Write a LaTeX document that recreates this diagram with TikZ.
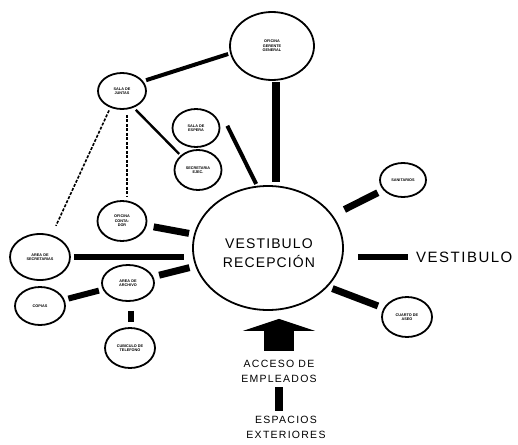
\documentclass[tikz,border=0pt]{standalone}
\usepackage{fontspec}
\setmainfont{Liberation Sans}
\usetikzlibrary{shapes.geometric,arrows.meta,calc}
\begin{document}
\begin{tikzpicture}[x=1pt,y=-1pt,
  room/.style={draw, ellipse, line width=1.8pt, inner sep=0pt, align=center,
    font=\fontsize{3.8}{4.4}\selectfont\bfseries},
  bar/.style={line width=7pt},
  midbar/.style={line width=4pt},
  thinbar/.style={line width=2.4pt},
  dotline/.style={line width=1.6pt, dash pattern=on 3pt off 1.5pt},
  bigtext/.style={font=\fontsize{14}{16}\selectfont\addfontfeature{LetterSpace=8}, align=center, inner sep=0pt},
  sidetext/.style={font=\fontsize{15}{17}\selectfont\addfontfeature{LetterSpace=10}, inner sep=0pt},
  medtext/.style={font=\fontsize{10.5}{15}\selectfont\addfontfeature{LetterSpace=12}, align=center, inner sep=0pt}
]
\useasboundingbox (0,0) rectangle (518,444);
\fill[white] (0,0) rectangle (518,444);

% main hall
\node[draw, ellipse, line width=1.8pt, minimum width=150pt, minimum height=124pt, inner sep=0pt] (main) at (268,248) {};
\node[bigtext] (maintxt) at (269,253) {VESTIBULO\\[3pt]RECEPCIÓN};

% rooms
\node[room, minimum width=84pt, minimum height=68pt] (gerente) at (272,46) {OFICINA\\GERENTE\\GENERAL};
\node[room, minimum width=48pt, minimum height=36pt] (juntas) at (122,91) {SALA DE\\JUNTAS};
\node[room, minimum width=47pt, minimum height=38pt] (espera) at (196,128) {SALA DE\\ESPERA};
\node[room, minimum width=47pt, minimum height=40pt] (secej) at (198,170) {SECRETARIA\\EJEC.};
\node[room, minimum width=49pt, minimum height=40pt] (conta) at (122,221) {OFICINA\\CONTA-\\DOR};
\node[room, minimum width=60pt, minimum height=46pt] (secret) at (40,257) {AREA DE\\SECRETARIAS};
\node[room, minimum width=52pt, minimum height=36pt] (archivo) at (128,283) {AREA DE\\ARCHIVO};
\node[room, minimum width=50pt, minimum height=38pt] (copias) at (40,306) {COPIAS};
\node[room, minimum width=50pt, minimum height=40pt] (telef) at (130,348) {CUBICULO DE\\TELEFONO};
\node[room, minimum width=46pt, minimum height=34pt] (sanit) at (403,180) {SANITARIOS};
\node[room, minimum width=50pt, minimum height=40pt] (aseo) at (407,317) {CUARTO DE\\ASEO};

% text labels
\node[sidetext, anchor=west] (vest) at (416,257) {VESTIBULO};
\node[medtext] (acceso) at (279,371) {ACCESO DE\\EMPLEADOS};
\node[medtext] (ext) at (286,427) {ESPACIOS\\EXTERIORES};

% connectors: heavy bars
\draw[bar, line width=8pt, shorten <=1pt, shorten >=3pt] ([xshift=4pt]gerente.south) -- ([xshift=4pt]gerente.south |- main.north);
\coordinate (vb) at (main.east |- vest.west);
\draw[bar, line width=6.5pt, shorten <=14pt, shorten >=8pt] (vb) -- (vest.west);
\draw[bar, shorten <=13pt, shorten >=6pt] (main) -- (sanit);
\draw[bar, shorten <=5pt, shorten >=6pt] (main.-33) -- (aseo);
\draw[bar, shorten <=7pt, shorten >=5pt] (conta) -- (main);
\draw[bar, line width=6pt, shorten <=3pt, shorten >=8pt] (secret.east) -- (secret.east -| main.west);
\draw[bar, shorten <=6pt, shorten >=6pt] (archivo) -- (main);
\draw[bar, line width=6pt, shorten <=4pt, shorten >=4pt] (copias) -- (archivo);
\draw[bar, line width=6pt, shorten <=9pt, shorten >=5pt] ([xshift=3pt]archivo.south) -- ([xshift=3pt]archivo.south |- telef.north);
\draw[bar, line width=8pt, shorten <=5pt, shorten >=5pt] (ext.north -| acceso.south) -- (acceso.south);

% lighter links
\draw[midbar, shorten <=3pt, shorten >=2pt] (juntas.25) -- (gerente.190);
\draw[thinbar, shorten <=3pt, shorten >=2pt] (juntas.305) -- (secej.140);
\draw[midbar, shorten <=2pt, shorten >=2pt] ($(espera.east)+(6pt,4pt)$) -- (main.100);
\draw[dotline, shorten <=5pt, shorten >=4pt] ([xshift=5pt]juntas.south) -- ([xshift=5pt]juntas.south |- conta.north);
\draw[dotline, shorten <=3pt, shorten >=10pt] (juntas.235) -- (secret.62);

% entrance arrow
\draw[line width=30pt, -{Triangle[width=72pt,length=12pt]}, shorten <=9pt, shorten >=8pt] (acceso.north) -- (acceso.north |- main.south);
\end{tikzpicture}
\end{document}
